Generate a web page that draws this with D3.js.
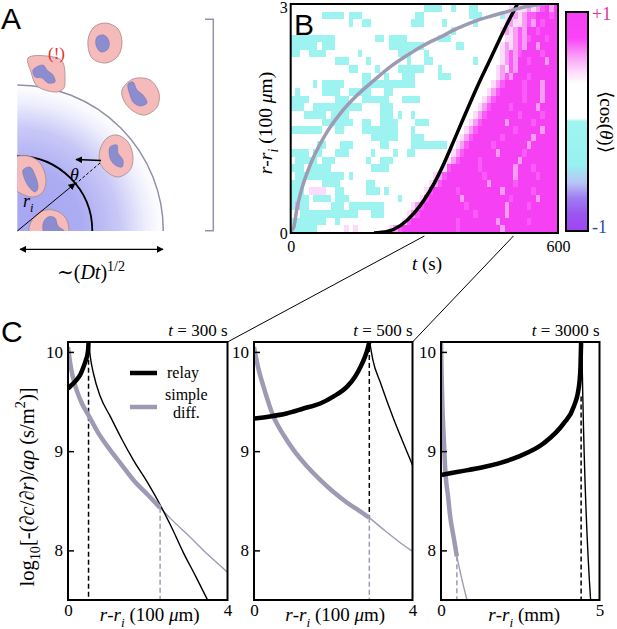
<!DOCTYPE html>
<html><head><meta charset="utf-8">
<script src="https://cdn.jsdelivr.net/npm/d3@7"></script>
<style>body{margin:0;background:#fff}svg{display:block}</style>
</head><body><svg id="fig" width="617" height="629"></svg>
<script>
// ================= DATA =================
// Panel B heatmap: 30 r-bins (top = r 2.9-3.0) x 60 t-bins (10 s each), run-length encoded
const heatTMax = 600, heatRMax = 3, heatNT = 60, heatNR = 30;
const heatRows = [
"30. 4c 2. 1c 3. 2c 7. 4a 1b 1a 1b 1d 1M 1b 1M",
"7. 5c 1. 3c 12. 2c 10. 3c 4. 1c 2a 1b 1a 1b 2d 3M 1d 1M",
"13. 1c 2. 2c 9. 3c 4. 1c 6. 1c 6. 1a 1b 2a 1b 1d 1b 1M 1d 3M",
"36. 1c 10. 1a 1b 1a 1b 1d 1b 2M 1d 4M",
"10c 9. 2c 1. 4c 7. 3c 12. 1a 1a 1b 1d 1b 1d 3M 1d 2M",
"6c 1. 3c 12. 8c 7. 2c 8. 1a 1b 1a 1b 1d 1b 2M 1b 4M",
"2c 2. 4c 7. 1c 8. 3c 3. 1c 16. 1a 1b 1d 1b 1d 4M 1d 3M",
"10. 3c 4. 1c 8. 1c 3. 2c 9. 1c 5. 1a 1b 1d 1b 2M 1d 3M 1b 2M",
"13. 2c 4. 1c 4. 6c 3. 1c 12. 1a 1b 1a 1d 1b 9M",
"16. 2c 3. 1c 3. 3c 5. 3c 10. 1a 1b 1d 1b 3M 1d 6M",
"5. 1c 1. 5c 4. 12c 17. 1a 1b 1d 4M 1d 3M 1b 3M",
"1. 1c 5. 4c 2. 5c 3. 2c 21. 1a 1b 1d 5M 1d 3M 1b 3M",
"4c 6. 3c 3. 6c 3. 4c 14. 1a 1b 1d 6M 1d 3M 1b 3M",
"3c 2. 11c 4. 3c 19. 1a 1b 1d 4M 1d 5M 1b 4M",
"3. 5c 1. 4c 7. 3c 1. 1c 2. 1c 13. 1a 1b 1d 7M 1d 4M 1d 3M",
"7. 7c 2. 2c 2. 4c 4. 3c 9. 1a 1b 1d 5M 1b 5M 1d 5M",
"7c 3. 2c 4. 8c 3. 1c 11. 1a 1b 1d 8M 1d 5M 1b 3M",
"18. 6c 3. 3c 8. 1a 1b 1d 6M 1d 6M 1b 5M",
"6. 2c 3. 3c 6. 2c 5. 8c 2. 1a 1b 1d 5M 1d 7M 1b 6M",
"4c 1. 2c 3. 3c 5. 1c 4. 1c 2. 2c 8. 1a 1b 1d 7M 1b 5M 1d 7M",
"1. 5c 1. 3c 7. 1c 2. 3c 12. 1a 1b 1d 4M 1d 8M 1b 8M",
"3c 1. 5c 9. 4c 12. 1a 1d 6M 1d 7M 1b 3M 1d 5M",
"1. 11c 1. 1c 18. 1a 1b 1d 8M 1d 6M 1b 4M 1d 4M",
"3c 4. 4c 6. 2c 12. 1a 1b 1d 10M 1b 5M 1d 9M",
"3c 1. 4a 2. 2c 5. 3c 1. 1c 8. 1a 1d 5M 1d 9M 1b 6M 1d 5M",
"4c 1. 4c 1. 3c 11. 1c 4. 1a 1d 7M 1b 10M 1d 5M 1b 4M",
"1c 1b 2c 5. 3c 1. 8c 6. 1a 1b 1d 9M 1d 8M 1b 4M 1d 6M",
"2. 13c 3. 3c 5. 1a 1b 1d 12M 1d 6M 1b 11M",
"8c 2. 1c 14. 1a 1d 10M 1d 8M 1b 6M 1d 6M",
"6c 6. 1a 1. 1a 7. 1a 1b 1d 12M 1d 9M 1b 12M"
];
const cellCodes  = ['.', 'c', 'a', 'b', 'd', 'M'];
const cellValues = [0.18, -0.2, 0.45, 0.6, 0.72, 1.0];

// colour bar <cos(theta)>
const cbarValues = [1, 0.76, 0.6, 0.44, 0.34, 0.03, 0.0, -0.4, -0.56, -0.7, -0.85, -1];
const cbarColors = ['#f640f4', '#fb44f8', '#f99cf6', '#fde0fb', '#ffffff', '#ffffff',
                    '#a0f5f0', '#98f0f0', '#b8c4f6', '#a07cf2', '#9a55f0', '#a044f2'];
const cbarTickLabels = ['+1', '-1'];

// Panel B fronts: [t (s), r - r_i (100 um)]
const relayFrontB = [[187,0],[217,0.02],[247,0.1],[277,0.26],[299,0.43],[322,0.65],[344,0.91],[367,1.22],[389,1.52],[419,1.92],[449,2.29],[479,2.66],[509,3.0]];
const diffFrontB  = [[0,0],[2,0.03],[7,0.08],[14,0.32],[22,0.52],[45,0.91],[75,1.26],[112,1.57],[150,1.81],[187,2.0],[224,2.18],[262,2.33],[299,2.46],[337,2.57],[374,2.68],[411,2.77],[449,2.84],[486,2.9],[524,2.96],[553,2.99],[580,3.01]];
const bXTicks = [0, 600], bYTicks = [0, 3];
const zoomTimes = [300, 500];

// Panel C: log10 gradient profiles
const cYTicks = [8, 9, 10];
const cYDomain = [7.5, 10.1];
const c300RelayIn  = [[0,9.63],[0.1,9.67],[0.22,9.72],[0.32,9.78],[0.39,9.85],[0.45,9.92],[0.49,9.98],[0.51,10.05],[0.515,10.1]];
const c300RelayOut = [[0.52,10.1],[0.56,9.95],[0.64,9.78],[0.81,9.55],[1.06,9.35],[1.35,9.12],[1.64,8.91],[2.0,8.68],[2.31,8.46],[2.6,8.23],[2.89,7.98],[3.2,7.74],[3.5,7.5]];
const c300DiffIn   = [[0,10.05],[0.05,9.9],[0.12,9.75],[0.22,9.61],[0.35,9.48],[0.515,9.36],[0.75,9.19],[1.06,9.01],[1.35,8.86],[1.64,8.71],[2.0,8.56],[2.31,8.43]];
const c300DiffOut  = [[2.31,8.43],[2.6,8.31],[2.97,8.17],[3.5,7.96],[4.0,7.78]];
const c500RelayIn  = [[0,9.33],[0.4,9.35],[0.82,9.38],[1.25,9.43],[1.67,9.48],[2.0,9.55],[2.35,9.65],[2.55,9.75],[2.69,9.85],[2.8,9.95],[2.86,10.02],[2.91,10.1]];
const c500RelayOut = [[2.92,10.1],[3.0,9.92],[3.2,9.68],[3.5,9.35],[3.75,9.1],[4.0,8.86]];
const c500DiffIn   = [[0,10.05],[0.1,9.85],[0.24,9.65],[0.49,9.35],[0.75,9.16],[1.0,9.01],[1.33,8.85],[1.67,8.71],[2.0,8.59],[2.35,8.48],[2.65,8.4],[2.91,8.33]];
const c500DiffOut  = [[2.91,8.33],[3.3,8.2],[3.65,8.09],[4.0,7.99]];
const c3000RelayIn  = [[0,8.76],[0.5,8.79],[1.35,8.84],[2.4,8.94],[3.24,9.08],[3.87,9.28],[4.19,9.45],[4.35,9.65],[4.4,9.85],[4.42,10.1]];
const c3000RelayOut = [[4.44,10.1],[4.47,9.6],[4.72,7.5]];
const c3000DiffIn   = [[0,10.1],[0.02,9.75],[0.05,9.4],[0.08,9.18],[0.14,8.78],[0.22,8.55],[0.29,8.34],[0.4,8.13],[0.5,7.94]];
const c3000DiffOut  = [[0.5,7.94],[0.65,7.72],[0.82,7.5]];
// front markers: relay x, black dashed top/bottom, diffusion x, gray dashed top
const c300Fronts  = {relayX: 0.515, relayTop: 9.92, relayBot: 7.5, diffX: 2.31, diffTop: 8.43};
const c500Fronts  = {relayX: 2.91, relayTop: 10.05, relayBot: 8.33, diffX: 2.91, diffTop: 8.33};
const c3000Fronts = {relayX: 4.42, relayTop: 9.55, relayBot: 7.5, diffX: 0.5, diffTop: 7.94};
const cTitles = ['t = 300 s', 't = 500 s', 't = 3000 s'];
const cXDomains = [[0,4],[0,4],[0,5]];
const cXUnits = ['100 μm', '100 μm', 'mm'];
const legendLabels = ['relay', 'simple', 'diff.'];

// ================= DRAWING =================
const SERIF = '"Liberation Serif","DejaVu Serif",serif';
const SANS = '"Liberation Sans",Arial,sans-serif';
const GRAY = '#9d9bb4';
const svg = d3.select('#fig');
svg.append('rect').attr('width',617).attr('height',629).attr('fill','#fff');
const defs = svg.append('defs');

function rich(sel, parts, size) {
  const t = sel.append('text').attr('font-size', size).attr('font-family', SERIF);
  let off = 0;
  parts.forEach(p => {
    const target = p.sub ? size*0.3 : (p.sup ? -size*0.42 : 0);
    const ts = t.append('tspan').text(p.t);
    if (target - off !== 0) ts.attr('dy', target - off);
    off = target;
    if (p.i) ts.attr('font-style','italic');
    if (p.sub || p.sup) ts.attr('font-size', size*0.7);
  });
  return t;
}
function marker(id, rev) {
  defs.append('marker').attr('id', id).attr('viewBox','0 0 10 10')
    .attr('refX', rev ? 1 : 9).attr('refY',5).attr('markerWidth',7).attr('markerHeight',7)
    .attr('markerUnits','userSpaceOnUse').attr('orient','auto')
    .append('path').attr('d', rev ? 'M10,0 L0,5 L10,10 Z' : 'M0,0 L10,5 L0,10 Z').attr('fill','#000');
}
marker('arrEnd', false); marker('arrStart', true);

// ---------- Panel A (illustration) ----------
const A = svg.append('g');
const ox = 17.3, oy = 231, Rout = 146, Rin = 75;
const rg = defs.append('radialGradient').attr('id','blueGrad').attr('gradientUnits','userSpaceOnUse')
  .attr('cx',ox).attr('cy',oy).attr('r',Rout);
[[0,'#a6a6f2'],[0.45,'#acacf3'],[0.7,'#c8c8f7'],[0.88,'#eeeefd'],[1,'#ffffff']].forEach(s =>
  rg.append('stop').attr('offset',s[0]).attr('stop-color',s[1]));
A.append('path').attr('d',`M${ox},${oy} L${ox},${oy-Rout} A${Rout},${Rout} 0 0 1 ${ox+Rout},${oy} Z`).attr('fill','url(#blueGrad)');
A.append('path').attr('d',`M${ox},${oy-Rout} A${Rout},${Rout} 0 0 1 ${ox+Rout},${oy}`).attr('fill','none').attr('stroke','#9090a8').attr('stroke-width',1.5);
A.append('path').attr('d',`M${ox},${oy-Rin} A${Rin},${Rin} 0 0 1 ${ox+Rin},${oy}`).attr('fill','none').attr('stroke','#000').attr('stroke-width',1.8);

defs.append('clipPath').attr('id','clipA').append('rect').attr('x',ox).attr('y',0).attr('width',220).attr('height',oy);
const cellsG = A.append('g').attr('clip-path','url(#clipA)');
const blob = d3.line().curve(d3.curveCatmullRomClosed.alpha(0.5));
const cellShapes = [
  {body:[[88,40],[94,27],[106,23],[118,29],[122,43],[118,56],[106,63],[92,58]],
   nuc:[[97,37],[104,35],[109,41],[108,49],[101,52],[96,45]]},
  {body:[[28,58],[47,56],[62,61],[65,80],[64,88],[57,92],[37,86],[31,72]],
   nuc:[[33,70],[43,65],[47,70],[53,75],[55,82],[48,83],[42,78],[35,77]]},
  {body:[[122,90],[133,79],[150,80],[159,93],[157,107],[145,115],[133,111],[124,101]],
   nuc:[[128,84],[133,82],[137,90],[143,95],[147,103],[140,106],[133,102],[130,95]]},
  {body:[[100,150],[107,138],[117,135],[128,142],[133,157],[130,170],[118,177],[107,172],[100,163]],
   nuc:[[110,147],[117,145],[118,153],[123,160],[122,167],[115,165],[110,158]]},
  {body:[[8,160],[28,156],[40,163],[46,180],[42,193],[32,197],[18,192],[8,185]],
   nuc:[[23,170],[30,167],[35,175],[38,188],[35,192],[29,187],[25,180]]},
  {body:[[31,222],[40,212],[53,210],[65,217],[69,231],[66,242],[34,242],[29,232]],
   nuc:[[43,224],[48,217],[55,218],[58,226],[65,232],[60,240],[46,238]]}
];
cellShapes.forEach(c => {
  cellsG.append('path').attr('d', blob(c.body)).attr('fill','#f5baba').attr('stroke','#a88888').attr('stroke-width',0.8);
  cellsG.append('path').attr('d', blob(c.nuc)).attr('fill','#8c8cd0').attr('stroke','#7070aa').attr('stroke-width',0.5);
});
A.append('line').attr('x1',100).attr('y1',163).attr('x2',72).attr('y2',187).attr('stroke','#000').attr('stroke-width',1).attr('stroke-dasharray','3,2');
A.append('line').attr('x1',101).attr('y1',160.5).attr('x2',76).attr('y2',159.5).attr('stroke','#000').attr('stroke-width',1.6).attr('marker-end','url(#arrEnd)');
A.append('line').attr('x1',ox).attr('y1',oy).attr('x2',75).attr('y2',183.5).attr('stroke','#000').attr('stroke-width',1).attr('marker-end','url(#arrEnd)');
rich(A, [{t:'θ', i:true}], 18).attr('x',70).attr('y',181);
rich(A, [{t:'r', i:true},{t:'i', i:true, sub:true}], 18).attr('x',23).attr('y',207);
rich(A, [{t:'(!)'}], 17).attr('x',48).attr('y',59).attr('fill','#e8302c');
A.append('line').attr('x1',20).attr('y1',249.3).attr('x2',163).attr('y2',249.3).attr('stroke','#000').attr('stroke-width',1.2)
  .attr('marker-start','url(#arrStart)').attr('marker-end','url(#arrEnd)');
rich(A, [{t:'∼('},{t:'Dt', i:true},{t:')'},{t:'1/2', sup:true}], 20).attr('x',91).attr('y',279).attr('text-anchor','middle');
A.append('path').attr('d','M205,19.3 H213.3 V230.7 H205').attr('fill','none').attr('stroke','#9494ac').attr('stroke-width',1.5);
A.append('text').text('A').attr('x',1).attr('y',29).attr('font-family',SANS).attr('font-size',30);

// ---------- Panel B (heatmap) ----------
const B = svg.append('g');
const bx0 = 290.7, bx1 = 558, by0 = 233, by1 = 4;
const tS = d3.scaleLinear([0, heatTMax], [bx0, bx1]);
const rS = d3.scaleLinear([0, heatRMax], [by0, by1]);
const colorS = d3.scaleLinear(cbarValues, cbarColors).clamp(true);
function decodeRow(s) {
  let out = [];
  s.trim().split(/\s+/).forEach(tok => {
    const n = parseInt(tok, 10), ch = tok.replace(/^\d+/, '');
    for (let k = 0; k < n; k++) out.push(ch);
  });
  while (out.length < heatNT) out.push('.');
  return out.slice(0, heatNT);
}
const cells = [];
heatRows.forEach((s, i) => {
  decodeRow(s).forEach((ch, j) => {
    cells.push({t0: j*heatTMax/heatNT, t1: (j+1)*heatTMax/heatNT,
                r1: heatRMax - i*heatRMax/heatNR, r0: heatRMax - (i+1)*heatRMax/heatNR,
                v: cellValues[cellCodes.indexOf(ch)]});
  });
});
defs.append('clipPath').attr('id','clipB').append('rect').attr('x',bx0).attr('y',by1).attr('width',bx1-bx0).attr('height',by0-by1);
const hb = B.append('g').attr('clip-path','url(#clipB)');
hb.selectAll('rect.cell').data(cells).join('rect').attr('class','cell')
  .attr('x', d => tS(d.t0)).attr('width', d => tS(d.t1) - tS(d.t0) + 0.4)
  .attr('y', d => rS(d.r1)).attr('height', d => rS(d.r0) - rS(d.r1) + 0.4)
  .attr('fill', d => colorS(d.v)).attr('shape-rendering','crispEdges');
const lineB = d3.line().x(d => tS(d[0])).y(d => rS(d[1])).curve(d3.curveMonotoneX);
hb.append('path').attr('d', lineB(relayFrontB)).attr('fill','none').attr('stroke','#000').attr('stroke-width',3.5);
hb.append('path').attr('d', lineB(diffFrontB)).attr('fill','none').attr('stroke',GRAY).attr('stroke-width',3.5);
B.append('rect').attr('x',bx0).attr('y',by1).attr('width',bx1-bx0).attr('height',by0-by1).attr('fill','none').attr('stroke','#000').attr('stroke-width',2);
B.append('text').text('B').attr('x',294).attr('y',35).attr('font-family',SANS).attr('font-size',30);
const bxAxis = B.append('g').attr('transform',`translate(0,${by0})`).call(d3.axisBottom(tS).tickValues(bXTicks).tickSize(0).tickPadding(8).tickFormat(d3.format('d')));
const byAxis = B.append('g').attr('transform',`translate(${bx0},0)`).call(d3.axisLeft(rS).tickValues(bYTicks).tickSize(0).tickPadding(3).tickFormat(d3.format('d')));
[bxAxis, byAxis].forEach(g => { g.select('.domain').remove(); g.selectAll('text').attr('font-family',SERIF).attr('font-size',16).attr('fill','#000'); });
byAxis.selectAll('text').filter(d => d === 3).attr('dy','0.55em');
rich(B, [{t:'t', i:true},{t:' (s)'}], 19).attr('x',427).attr('y',270).attr('text-anchor','middle');
rich(B, [{t:'r', i:true},{t:'-'},{t:'r', i:true},{t:'i', i:true, sub:true},{t:' (100 '},{t:'μ', i:true},{t:'m)'}], 19.5)
  .attr('text-anchor','middle').attr('transform','translate(272,123) rotate(-90)');
// colour bar
const cbx = 566, cbw = 22, cby0 = 12, cby1 = 231;
const lg = defs.append('linearGradient').attr('id','cbar').attr('x1',0).attr('x2',0).attr('y1',0).attr('y2',1);
cbarValues.forEach((v, k) => lg.append('stop').attr('offset', (1 - v)/2).attr('stop-color', cbarColors[k]));
B.append('rect').attr('x',cbx).attr('y',cby0).attr('width',cbw).attr('height',cby1-cby0).attr('fill','url(#cbar)').attr('stroke','#000').attr('stroke-width',2);
B.append('text').text(cbarTickLabels[0]).attr('x',592).attr('y',20).attr('font-family',SERIF).attr('font-size',18).attr('fill','#e0309a');
B.append('text').text(cbarTickLabels[1]).attr('x',592).attr('y',233).attr('font-family',SERIF).attr('font-size',18).attr('fill','#2b4aa0');
rich(B, [{t:'⟨cos('},{t:'θ', i:true},{t:')⟩'}], 19).attr('text-anchor','middle').attr('transform','translate(600,122) rotate(90)');

// ---------- Panel C ----------
const C = svg.append('g');
const cy0 = 600, cy1 = 342;
const yS = d3.scaleLinear(cYDomain, [cy0, cy1]);
const panelX = [[68, 227.5], [254, 412.5], [441, 599.5]];
const panelData = [
  {ri: c300RelayIn, ro: c300RelayOut, di: c300DiffIn, do_: c300DiffOut, f: c300Fronts},
  {ri: c500RelayIn, ro: c500RelayOut, di: c500DiffIn, do_: c500DiffOut, f: c500Fronts},
  {ri: c3000RelayIn, ro: c3000RelayOut, di: c3000DiffIn, do_: c3000DiffOut, f: c3000Fronts}
];
panelData.forEach((pd, k) => {
  const [x0, x1] = panelX[k];
  const xS = d3.scaleLinear(cXDomains[k], [x0, x1]);
  const g = C.append('g');
  const cid = 'clipC' + k;
  defs.append('clipPath').attr('id', cid).append('rect').attr('x',x0).attr('y',cy1).attr('width',x1-x0).attr('height',cy0-cy1);
  const pg = g.append('g').attr('clip-path',`url(#${cid})`);
  const ln = d3.line().x(d => xS(d[0])).y(d => yS(d[1])).curve(d3.curveMonotoneX);
  pg.append('line').attr('x1',xS(pd.f.diffX)).attr('x2',xS(pd.f.diffX)).attr('y1',yS(pd.f.diffTop)).attr('y2',yS(7.5))
    .attr('stroke',GRAY).attr('stroke-width',1.5).attr('stroke-dasharray','5,3');
  pg.append('line').attr('x1',xS(pd.f.relayX)).attr('x2',xS(pd.f.relayX)).attr('y1',yS(pd.f.relayTop)).attr('y2',yS(pd.f.relayBot))
    .attr('stroke','#000').attr('stroke-width',1.5).attr('stroke-dasharray','5,3');
  pg.append('path').attr('d', ln(pd.do_)).attr('fill','none').attr('stroke',GRAY).attr('stroke-width',1.4);
  pg.append('path').attr('d', ln(pd.ro)).attr('fill','none').attr('stroke','#000').attr('stroke-width',1.4);
  pg.append('path').attr('d', ln(pd.di)).attr('fill','none').attr('stroke',GRAY).attr('stroke-width',4.5);
  pg.append('path').attr('d', ln(pd.ri)).attr('fill','none').attr('stroke','#000').attr('stroke-width',4.5);
  g.append('rect').attr('x',x0).attr('y',cy1).attr('width',x1-x0).attr('height',cy0-cy1).attr('fill','none').attr('stroke','#000').attr('stroke-width',2);
  const ya = g.append('g').attr('transform',`translate(${x0},0)`).call(d3.axisLeft(yS).tickValues(cYTicks).tickSize(-6).tickPadding(5).tickFormat(d3.format('d')));
  ya.select('.domain').remove();
  ya.selectAll('line').attr('stroke','#000').attr('stroke-width',1.5);
  const xa = g.append('g').attr('transform',`translate(0,${cy0})`).call(d3.axisBottom(xS).tickValues(cXDomains[k]).tickSize(0).tickPadding(4).tickFormat(d3.format('d')));
  xa.select('.domain').remove();
  [ya, xa].forEach(a => a.selectAll('text').attr('font-family',SERIF).attr('font-size',17).attr('fill','#000'));
  const tt = cTitles[k].split(' ');
  rich(g, [{t: tt[0], i:true},{t:' ' + tt.slice(1).join(' ')}], 17).attr('x', x1).attr('y',336).attr('text-anchor','end');
  rich(g, [{t:'r', i:true},{t:'-'},{t:'r', i:true},{t:'i', i:true, sub:true},{t:' ('},
           ...(cXUnits[k].indexOf('μ') >= 0 ? [{t:'100 '},{t:'μ', i:true},{t:'m)'}] : [{t:cXUnits[k] + ')'}])], 19)
    .attr('x', (x0 + x1)/2 + (k === 2 ? 4 : 2)).attr('y', 621).attr('text-anchor','middle');
  if (k < 2) C.append('line').attr('x1', tS(zoomTimes[k])).attr('y1', by0 + 3).attr('x2', x1).attr('y2', cy1).attr('stroke','#000').attr('stroke-width',1);
});
// legend in first panel
C.append('line').attr('x1',130).attr('x2',157).attr('y1',373).attr('y2',373).attr('stroke','#000').attr('stroke-width',4.5);
C.append('line').attr('x1',130).attr('x2',157).attr('y1',407).attr('y2',407).attr('stroke',GRAY).attr('stroke-width',4.5);
C.append('text').text(legendLabels[0]).attr('x',167).attr('y',378).attr('font-family',SERIF).attr('font-size',16);
C.append('text').text(legendLabels[1]).attr('x',165).attr('y',400).attr('font-family',SERIF).attr('font-size',16);
C.append('text').text(legendLabels[2]).attr('x',173).attr('y',418).attr('font-family',SERIF).attr('font-size',16);
rich(C, [{t:'log'},{t:'10', sub:true},{t:'[-(∂'},{t:'c', i:true},{t:'/∂'},{t:'r', i:true},{t:')/'},{t:'aρ', i:true},{t:' (s/m'},{t:'2', sup:true},{t:')]'}], 20.5)
  .attr('text-anchor','middle').attr('transform','translate(34,487) rotate(-90)');
C.append('text').text('C').attr('x',1).attr('y',342).attr('font-family',SANS).attr('font-size',30);
</script></body></html>
